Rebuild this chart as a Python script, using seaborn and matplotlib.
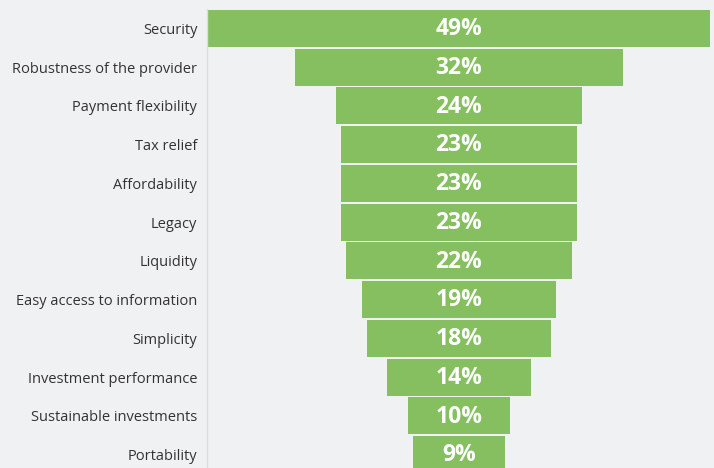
import numpy as np
import pandas as pd
import matplotlib
matplotlib.use("Agg")
import matplotlib.pyplot as plt
import seaborn as sns

# funnel data
factors = ['Security', 'Robustness of the provider', 'Payment flexibility', 'Tax relief',
           'Affordability', 'Legacy', 'Liquidity', 'Easy access to information',
           'Simplicity', 'Investment performance', 'Sustainable investments', 'Portability']
shares = [49, 32, 24, 23, 23, 23, 22, 19, 18, 14, 10, 9]

bg = '#f0f1f3'
green = '#86bf60'

sns.set_style('white')
plt.rcParams['font.family'] = ['Open Sans', 'DejaVu Sans']

df = pd.DataFrame({'factor': factors, 'share': shares})
df['half'] = df['share'] / 2

fig = plt.figure(figsize=(7.14, 4.68), dpi=100, facecolor=bg)
ax = fig.add_axes([207 / 714, -6 / 468, 504 / 714, 465 / 468])
ax.set_facecolor(bg)

# two half bars per row make a centred funnel
sns.barplot(data=df, x='half', y='factor', color=green, width=0.95,
            linewidth=0, saturation=1, ax=ax)
sns.barplot(data=df, x=-df['half'], y='factor', color=green, width=0.95,
            linewidth=0, saturation=1, ax=ax)

for i, v in enumerate(shares):
    ax.text(0, i + 0.02, f'{v}%', ha='center', va='center', color='white',
            fontsize=16.5, fontweight='bold')

ax.set_xlim(-24.6, 24.6)
ax.set_ylim(11.5, -0.5)
ax.set_xlabel('')
ax.set_ylabel('')
ax.set_xticks([])
ax.tick_params(axis='y', length=0, pad=7, labelsize=10.5, labelcolor='#333333')
for s in ['top', 'right', 'bottom']:
    ax.spines[s].set_visible(False)
ax.spines['left'].set_color('#dcdde0')
ax.spines['left'].set_linewidth(1)

fig.savefig('out.png', dpi=100, facecolor=bg)
